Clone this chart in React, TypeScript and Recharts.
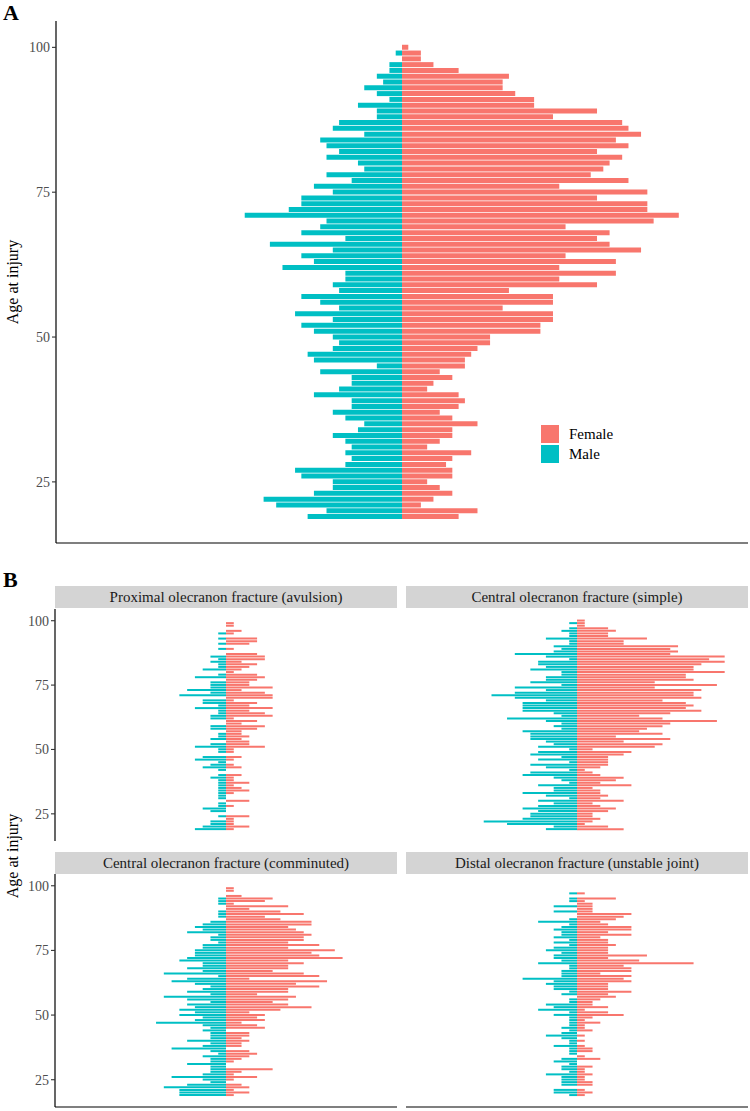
import React from 'react';
import { BarChart, Bar, XAxis, YAxis } from 'recharts';

const AGES = [
  100, 99, 98, 97, 96, 95, 94, 93, 92, 91,
  90, 89, 88, 87, 86, 85, 84, 83, 82, 81,
  80, 79, 78, 77, 76, 75, 74, 73, 72, 71,
  70, 69, 68, 67, 66, 65, 64, 63, 62, 61,
  60, 59, 58, 57, 56, 55, 54, 53, 52, 51,
  50, 49, 48, 47, 46, 45, 44, 43, 42, 41,
  40, 39, 38, 37, 36, 35, 34, 33, 32, 31,
  30, 29, 28, 27, 26, 25, 24, 23, 22, 21,
  20, 19,
];

const Y_TICKS = [25, 50, 75, 100];

// Panel A (all fractures), counts by age 100 -> 19
const ALL_FEMALE = [
  1, 3, 3, 5, 9, 17, 16, 16, 18, 21,
  21, 31, 24, 35, 36, 38, 34, 36, 31, 35,
  33, 32, 30, 36, 25, 39, 31, 39, 39, 44,
  40, 26, 33, 31, 33, 38, 26, 34, 25, 34,
  25, 31, 17, 24, 24, 16, 24, 24, 22, 22,
  14, 14, 12, 11, 10, 10, 6, 8, 5, 4,
  9, 10, 9, 6, 8, 12, 8, 8, 6, 4,
  11, 8, 7, 8, 8, 4, 6, 8, 5, 3,
  12, 9,
];
const ALL_MALE = [
  0, 1, 0, 2, 2, 4, 3, 6, 4, 2,
  7, 4, 4, 10, 11, 6, 13, 12, 10, 12,
  7, 6, 12, 8, 14, 11, 16, 16, 18, 25,
  12, 13, 16, 9, 21, 11, 16, 14, 19, 9,
  9, 11, 10, 16, 13, 10, 17, 11, 16, 14,
  11, 10, 11, 15, 14, 4, 13, 8, 8, 10,
  14, 8, 8, 11, 9, 6, 7, 11, 9, 8,
  9, 8, 9, 17, 16, 11, 11, 14, 22, 20,
  12, 15,
];

// Panel B facets
const FACET_TITLES = [
  'Proximal olecranon fracture (avulsion)',
  'Central olecranon fracture (simple)',
  'Central olecranon fracture (comminuted)',
  'Distal olecranon fracture (unstable joint)',
];

const PROX_FEMALE = [
  0, 1, 1, 0, 2, 1, 0, 4, 4, 3,
  0, 1, 0, 4, 5, 5, 2, 4, 3, 2,
  1, 4, 5, 4, 3, 3, 6, 2, 5, 6,
  6, 1, 4, 3, 6, 3, 5, 6, 1, 4,
  2, 5, 4, 2, 2, 3, 2, 3, 3, 5,
  1, 1, 0, 2, 1, 0, 1, 2, 0, 0,
  2, 1, 1, 3, 1, 2, 3, 1, 0, 0,
  3, 0, 1, 0, 0, 0, 3, 1, 1, 1,
  3, 1,
];
const PROX_MALE = [
  0, 0, 0, 0, 0, 1, 0, 1, 0, 1,
  0, 1, 0, 0, 2, 1, 2, 1, 1, 3,
  0, 1, 4, 0, 2, 2, 2, 5, 2, 6,
  0, 3, 3, 1, 4, 1, 1, 2, 2, 0,
  0, 2, 2, 0, 1, 1, 2, 0, 2, 4,
  1, 1, 0, 3, 4, 1, 2, 3, 1, 0,
  1, 2, 1, 1, 1, 1, 1, 1, 1, 1,
  0, 1, 1, 3, 2, 0, 1, 0, 2, 2,
  3, 4,
];

const SIMPLE_FEMALE = [
  1, 1, 1, 4, 5, 4, 4, 9, 6, 6,
  13, 12, 13, 12, 19, 17, 19, 16, 15, 15,
  19, 14, 14, 15, 10, 18, 10, 16, 15, 15,
  16, 11, 14, 15, 14, 16, 12, 8, 11, 18,
  12, 11, 9, 8, 11, 5, 12, 6, 11, 10,
  2, 7, 6, 4, 4, 4, 4, 3, 1, 2,
  3, 6, 5, 3, 7, 2, 3, 3, 4, 3,
  6, 2, 3, 5, 4, 2, 2, 3, 2, 1,
  4, 6,
];
const SIMPLE_MALE = [
  0, 1, 0, 1, 2, 1, 1, 4, 1, 1,
  3, 2, 3, 8, 4, 1, 5, 5, 4, 6,
  2, 2, 4, 4, 6, 2, 8, 4, 8, 11,
  8, 4, 7, 7, 7, 7, 3, 2, 9, 4,
  2, 3, 2, 7, 6, 6, 6, 4, 3, 5,
  1, 5, 6, 2, 5, 1, 6, 4, 1, 6,
  7, 3, 2, 1, 5, 3, 3, 7, 4, 1,
  5, 3, 5, 7, 5, 6, 6, 7, 12, 9,
  3, 4,
];

const COMM_FEMALE = [
  0, 1, 1, 0, 2, 6, 5, 1, 8, 3,
  7, 10, 5, 7, 11, 11, 8, 9, 10, 11,
  10, 10, 8, 12, 8, 14, 11, 12, 15, 8,
  10, 8, 8, 6, 10, 12, 3, 13, 9, 12,
  8, 8, 4, 9, 8, 6, 8, 11, 7, 3,
  5, 4, 5, 2, 4, 5, 0, 3, 3, 2,
  3, 2, 2, 0, 3, 4, 3, 2, 1, 0,
  0, 6, 2, 1, 4, 1, 0, 2, 3, 1,
  3, 1,
];
const COMM_MALE = [
  0, 0, 0, 0, 0, 1, 1, 1, 0, 0,
  1, 1, 1, 0, 2, 3, 4, 3, 5, 1,
  2, 2, 1, 3, 3, 4, 4, 4, 5, 6,
  3, 3, 5, 3, 8, 1, 5, 7, 4, 2,
  3, 5, 2, 8, 5, 2, 5, 4, 6, 4,
  6, 3, 4, 9, 3, 2, 3, 2, 2, 2,
  5, 2, 3, 7, 2, 1, 3, 2, 2, 5,
  2, 2, 2, 3, 7, 3, 2, 5, 8, 6,
  6, 6,
];

const DIST_FEMALE = [
  0, 0, 0, 1, 0, 5, 1, 2, 2, 2,
  2, 7, 6, 5, 3, 4, 7, 7, 4, 7,
  3, 4, 4, 5, 4, 4, 4, 9, 4, 8,
  15, 6, 7, 7, 3, 7, 6, 7, 4, 4,
  4, 7, 4, 5, 3, 2, 2, 4, 1, 4,
  6, 2, 1, 3, 1, 1, 2, 0, 1, 0,
  1, 0, 1, 2, 2, 0, 1, 3, 0, 0,
  2, 1, 1, 2, 1, 1, 2, 2, 0, 1,
  2, 1,
];
const DIST_MALE = [
  0, 0, 0, 1, 0, 1, 1, 0, 3, 0,
  3, 0, 0, 1, 5, 1, 2, 3, 2, 2,
  3, 1, 3, 1, 3, 4, 2, 3, 3, 2,
  5, 1, 1, 2, 2, 2, 7, 3, 4, 3,
  3, 1, 2, 0, 1, 1, 4, 3, 5, 1,
  3, 1, 1, 1, 1, 2, 1, 2, 4, 2,
  1, 1, 3, 1, 1, 1, 0, 2, 3, 1,
  2, 2, 1, 4, 2, 2, 2, 2, 0, 3,
  3, 1,
];

const FEMALE_COLOR = '#F8766D';
const MALE_COLOR = '#00BFC4';
const SERIF = '"Liberation Serif", "Times New Roman", serif';

type PyramidProps = {
  female: number[];
  male: number[];
  left: number;
  top: number;
  width: number;
  height: number;
  margin: { top: number; right: number; bottom: number; left: number };
  xMax: number;
  showX: boolean;
  showY: boolean;
  yAxisWidth: number;
};

function Pyramid(p: PyramidProps) {
  const data = AGES.map((age, i) => ({ age, female: p.female[i], male: -p.male[i] }));
  return (
    <div style={{ position: 'absolute', left: p.left, top: p.top, fontFamily: SERIF }}>
      <BarChart
        width={p.width}
        height={p.height}
        data={data}
        layout="vertical"
        stackOffset="sign"
        barCategoryGap="5%"
        margin={p.margin}
        style={{ fontFamily: SERIF }}
      >
        <XAxis
          type="number"
          domain={[-p.xMax, p.xMax]}
          allowDataOverflow
          tick={false}
          tickLine={false}
          axisLine={p.showX ? { stroke: '#000', strokeWidth: 1.2 } : false}
          height={1}
        />
        <YAxis
          type="number"
          dataKey="age"
          domain={[14.45, 104.55]}
          reversed
          allowDataOverflow
          ticks={Y_TICKS}
          interval={0}
          hide={!p.showY}
          width={p.yAxisWidth}
          tick={{ fill: '#4D4D4D', fontSize: 14, fontFamily: SERIF }}
          tickLine={{ stroke: '#333', strokeWidth: 1.1 }}
          tickSize={4}
          axisLine={{ stroke: '#000', strokeWidth: 1.2 }}
        />
        <Bar dataKey="male" stackId="s" fill={MALE_COLOR} isAnimationActive={false} />
        <Bar dataKey="female" stackId="s" fill={FEMALE_COLOR} isAnimationActive={false} />
      </BarChart>
    </div>
  );
}

function Strip({ left, top, width, text }: { left: number; top: number; width: number; text: string }) {
  return (
    <div
      style={{
        position: 'absolute',
        left,
        top,
        width,
        height: 22,
        background: '#D4D4D4',
        color: '#1A1A1A',
        fontFamily: SERIF,
        fontSize: 15,
        lineHeight: '22px',
        textAlign: 'center',
        whiteSpace: 'nowrap',
      }}
    >
      {text}
    </div>
  );
}

function YLabel({ cx, cy }: { cx: number; cy: number }) {
  return (
    <div
      style={{
        position: 'absolute',
        left: cx - 60,
        top: cy - 10,
        width: 120,
        height: 20,
        lineHeight: '20px',
        textAlign: 'center',
        transform: 'rotate(-90deg)',
        fontFamily: SERIF,
        fontSize: 16,
        color: '#000',
        whiteSpace: 'nowrap',
      }}
    >
      Age at injury
    </div>
  );
}

export default function App() {
  const facets = [
    { f: PROX_FEMALE, m: PROX_MALE },
    { f: SIMPLE_FEMALE, m: SIMPLE_MALE },
    { f: COMM_FEMALE, m: COMM_MALE },
    { f: DIST_FEMALE, m: DIST_MALE },
  ];
  return (
    <div
      style={{
        position: 'absolute',
        left: 0,
        top: 0,
        width: 750,
        height: 1111,
        background: '#fff',
        overflow: 'hidden',
        fontFamily: SERIF,
      }}
    >
      <div style={{ position: 'absolute', left: 3, top: 0, fontSize: 22, fontWeight: 'bold', fontFamily: SERIF, lineHeight: '26px' }}>A</div>
      <Pyramid
        female={ALL_FEMALE}
        male={ALL_MALE}
        left={0}
        top={0}
        width={750}
        height={560}
        margin={{ top: 21, right: 2, bottom: 16, left: 0 }}
        xMax={55}
        showX
        showY
        yAxisWidth={56}
      />
      <YLabel cx={13} cy={282} />

      <div style={{ position: 'absolute', left: 3, top: 567, fontSize: 22, fontWeight: 'bold', fontFamily: SERIF, lineHeight: '26px' }}>B</div>
      <YLabel cx={13} cy={856} />

      <Strip left={55} top={586} width={342} text={FACET_TITLES[0]} />
      <Strip left={406} top={586} width={342} text={FACET_TITLES[1]} />
      <Strip left={55} top={852} width={342} text={FACET_TITLES[2]} />
      <Strip left={406} top={852} width={342} text={FACET_TITLES[3]} />

      <Pyramid
        female={facets[0].f}
        male={facets[0].m}
        left={0}
        top={600}
        width={400}
        height={250}
        margin={{ top: 9, right: 3, bottom: 8, left: 0 }}
        xMax={22}
        showX={false}
        showY
        yAxisWidth={55}
      />
      <Pyramid
        female={facets[1].f}
        male={facets[1].m}
        left={400}
        top={600}
        width={350}
        height={250}
        margin={{ top: 9, right: 2, bottom: 8, left: 6 }}
        xMax={22}
        showX={false}
        showY={false}
        yAxisWidth={0}
      />
      <Pyramid
        female={facets[2].f}
        male={facets[2].m}
        left={0}
        top={865}
        width={400}
        height={246}
        margin={{ top: 9, right: 3, bottom: 3, left: 0 }}
        xMax={22}
        showX
        showY
        yAxisWidth={55}
      />
      <Pyramid
        female={facets[3].f}
        male={facets[3].m}
        left={400}
        top={865}
        width={350}
        height={246}
        margin={{ top: 9, right: 2, bottom: 3, left: 6 }}
        xMax={22}
        showX
        showY={false}
        yAxisWidth={0}
      />

      {/* legend */}
      <div style={{ position: 'absolute', left: 541, top: 425, width: 18, height: 18, background: FEMALE_COLOR }} />
      <div style={{ position: 'absolute', left: 541, top: 445, width: 18, height: 18, background: MALE_COLOR }} />
      <div style={{ position: 'absolute', left: 569, top: 424, fontSize: 15, lineHeight: '20px', fontFamily: SERIF }}>Female</div>
      <div style={{ position: 'absolute', left: 569, top: 444, fontSize: 15, lineHeight: '20px', fontFamily: SERIF }}>Male</div>
    </div>
  );
}
